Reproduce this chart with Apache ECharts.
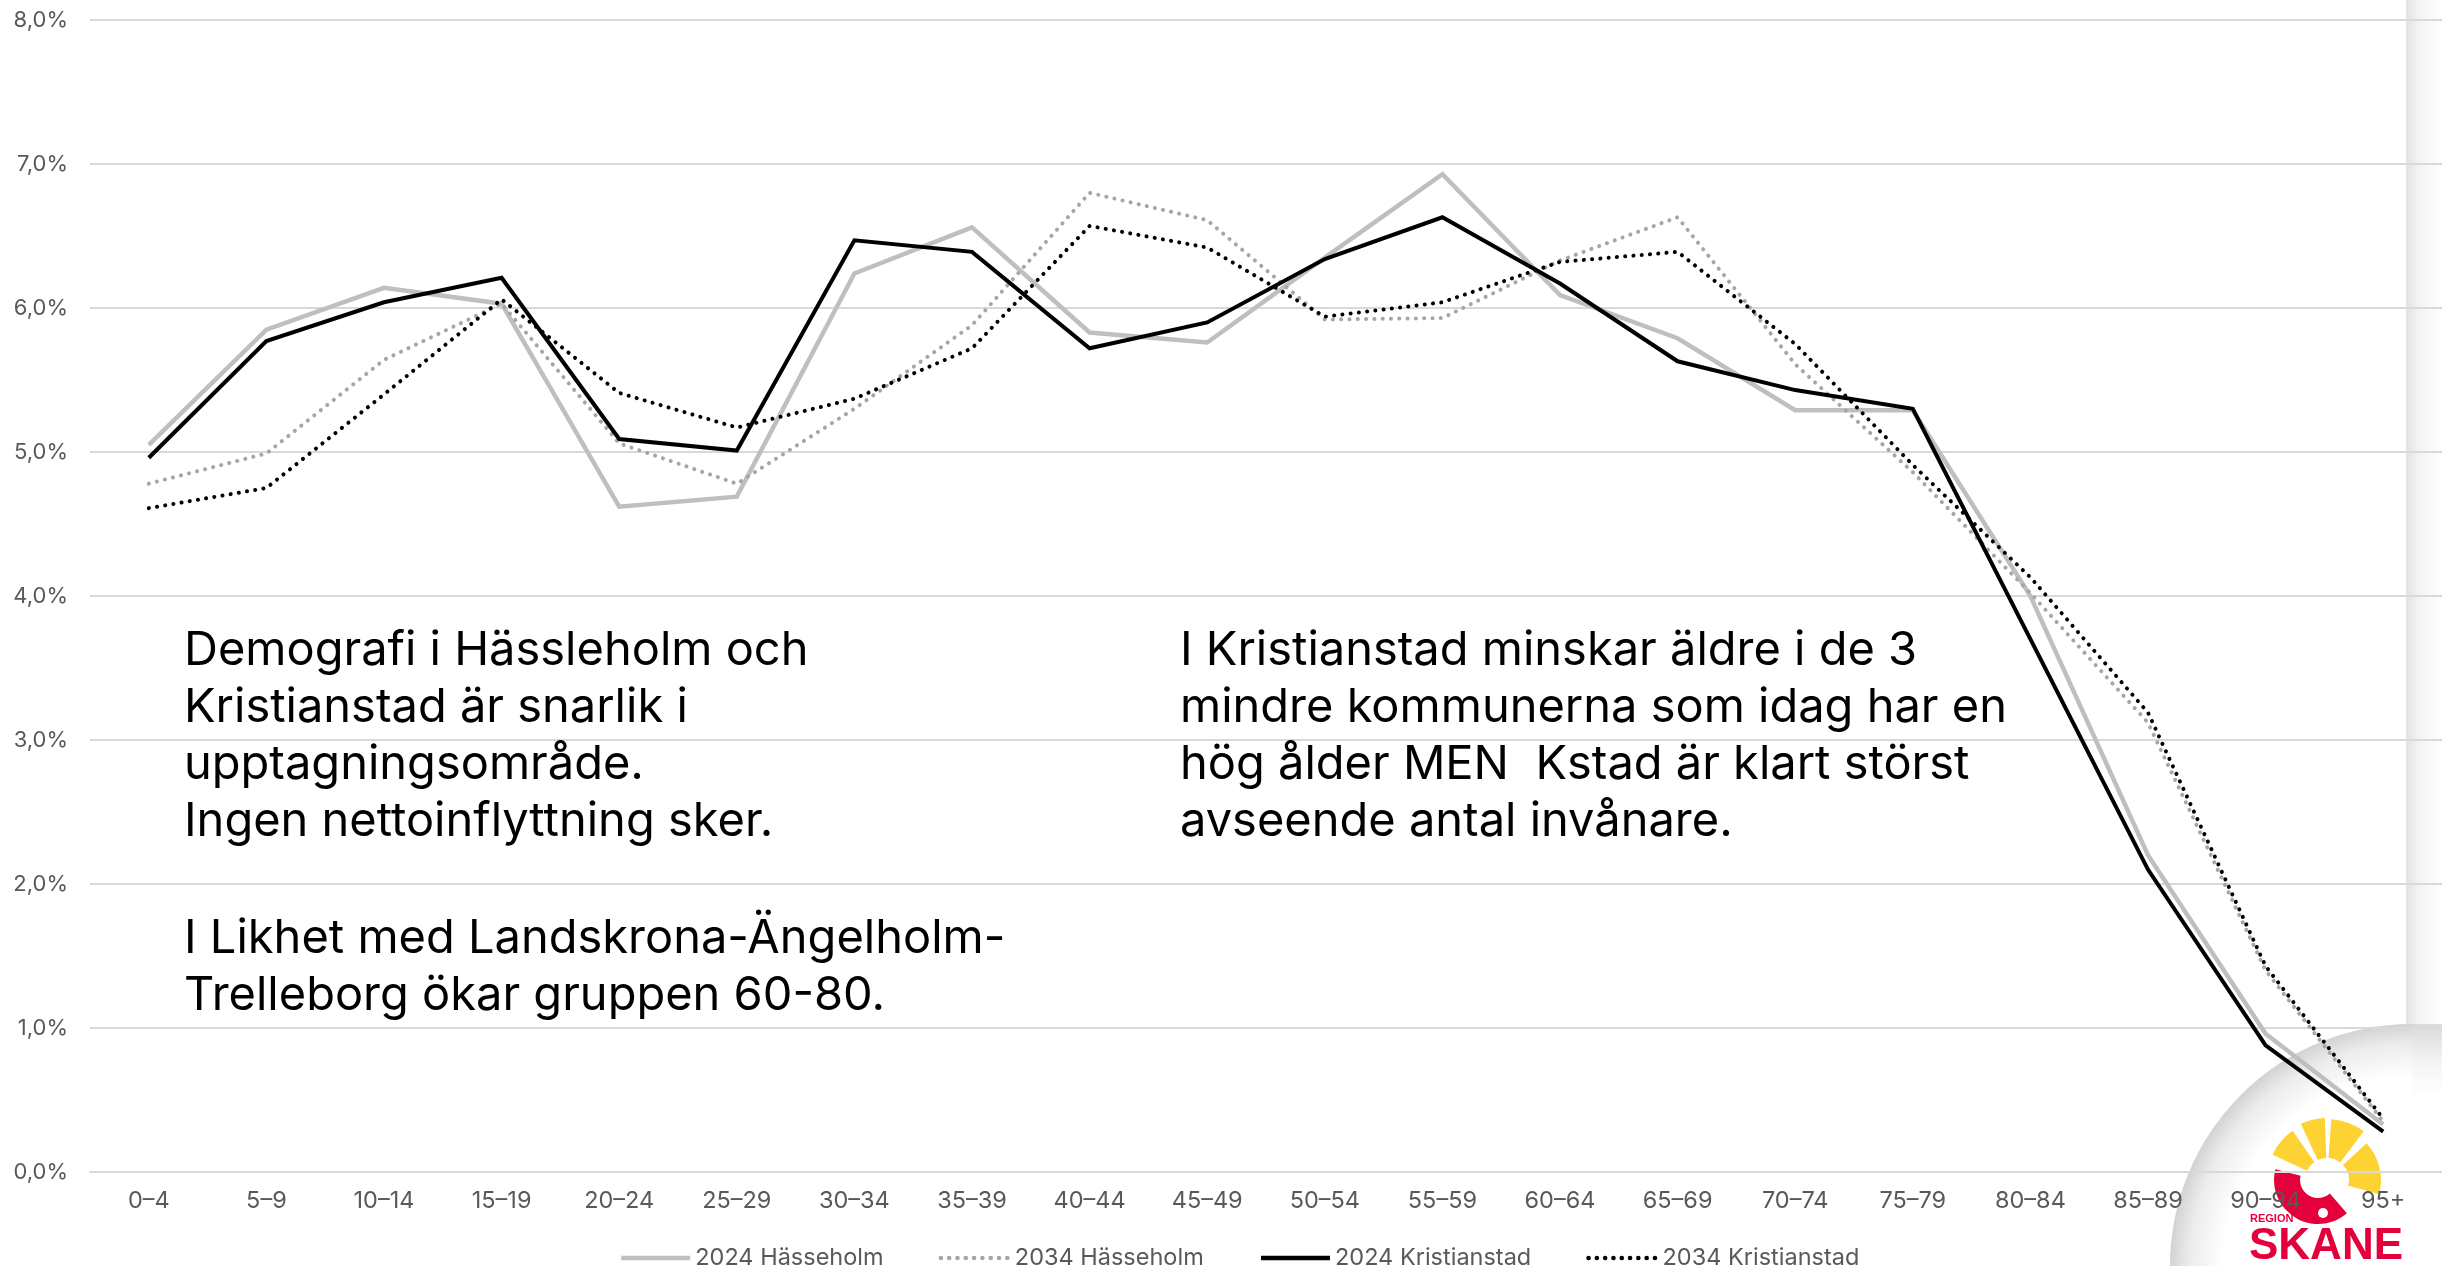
<!DOCTYPE html>
<html>
<head>
<meta charset="utf-8">
<script src="https://cdn.jsdelivr.net/npm/echarts@6/dist/echarts.min.js"></script>
<style>
html,body{margin:0;padding:0;background:#fff;}
#c{width:2442px;height:1268px;}
</style>
</head>
<body>
<div id="c"></div>
<script>
// ---- data ----
const categories = ['0–4','5–9','10–14','15–19','20–24','25–29','30–34','35–39','40–44','45–49','50–54','55–59','60–64','65–69','70–74','75–79','80–84','85–89','90–94','95+'];
const hass2024  = [5.05, 5.85, 6.14, 6.03, 4.62, 4.69, 6.24, 6.56, 5.83, 5.76, 6.35, 6.93, 6.09, 5.79, 5.29, 5.29, 4.00, 2.20, 0.96, 0.33];
const hass2034  = [4.78, 4.99, 5.64, 6.03, 5.06, 4.78, 5.30, 5.88, 6.80, 6.61, 5.92, 5.93, 6.33, 6.63, 5.61, 4.86, 4.02, 3.12, 1.40, 0.35];
const krist2024 = [4.96, 5.77, 6.04, 6.21, 5.09, 5.01, 6.47, 6.39, 5.72, 5.90, 6.34, 6.63, 6.17, 5.63, 5.43, 5.30, 3.70, 2.10, 0.88, 0.28];
const krist2034 = [4.61, 4.75, 5.40, 6.06, 5.41, 5.17, 5.37, 5.72, 6.57, 6.42, 5.94, 6.04, 6.32, 6.39, 5.75, 4.91, 4.13, 3.19, 1.43, 0.37];
const seriesNames = ['2024 Hässeholm','2034 Hässeholm','2024 Kristianstad','2034 Kristianstad'];
const yMin = 0, yMax = 8, yStep = 1;

const textLeftA = 'Demografi i Hässleholm och\nKristianstad är snarlik i\nupptagningsområde.\nIngen nettoinflyttning sker.';
const textLeftB = 'I Likhet med Landskrona-Ängelholm-\nTrelleborg ökar gruppen 60-80.';
const textRight = 'I Kristianstad minskar äldre i de 3\nmindre kommunerna som idag har en\nhög ålder MEN  Kstad är klart störst\navseende antal invånare.';

const LABEL_FONT = 'Inter';
const TEXT_FONT = 'Inter';
const RED = '#e4003a', YEL = '#fdd333';
const deg = Math.PI / 180;

const chart = echarts.init(document.getElementById('c'), null, {renderer:'canvas'});

const dot = [0.1, 8.2];
function mk(name, data, color, width, dotted) {
  return {
    name, type:'line', data, symbol:'none', smooth:false,
    lineStyle:{color, width, type: dotted ? dot : 'solid', cap: dotted ? 'round' : 'butt', join:'miter'},
    itemStyle:{color},
    emphasis:{disabled:true}
  };
}

const yellowSeg = (a0, a1, r) => ({
  type:'sector', z:-5, silent:true,
  shape:{cx:2327, cy:1180, r0:22, r:r, startAngle:a0*deg, endAngle:a1*deg, clockwise:true},
  style:{fill:YEL}
});

chart.setOption({
  animation:false,
  backgroundColor:'#ffffff',
  grid:{left:90, right:-4, top:20, bottom:96, containLabel:false},
  xAxis:{
    type:'category', data:categories, boundaryGap:true,
    axisLine:{show:true, lineStyle:{color:'#d9d9d9', width:2}},
    axisTick:{show:false},
    axisLabel:{color:'#595959', fontSize:23.5, fontFamily:LABEL_FONT, margin:17, interval:0}
  },
  yAxis:{
    type:'value', min:yMin, max:yMax, interval:yStep,
    axisLine:{show:false}, axisTick:{show:false},
    splitLine:{lineStyle:{color:'#d9d9d9', width:2}},
    axisLabel:{color:'#595959', fontSize:22, fontFamily:LABEL_FONT, margin:22,
      formatter: v => v.toFixed(1).replace('.', ',') + '%'}
  },
  legend:{
    data:seriesNames, left:614, top:1241, itemWidth:69, itemHeight:14, itemGap:55,
    itemStyle:{opacity:0},
    lineStyle:{width:4.5},
    textStyle:{color:'#595959', fontSize:23.5, fontFamily:LABEL_FONT},
    selectedMode:false
  },
  series:[
    mk(seriesNames[0], hass2024, '#bfbfbf', 4.5, false),
    mk(seriesNames[1], hass2034, '#a6a6a6', 4, true),
    mk(seriesNames[2], krist2024, '#000000', 4, false),
    mk(seriesNames[3], krist2034, '#000000', 4, true)
  ],
  graphic:[
    // shadow panel
    {type:'rect', z:-10, silent:true, shape:{x:2406, y:0, width:36, height:1026},
      style:{fill:{type:'linear', x:0, y:0, x2:1, y2:0, colorStops:[
        {offset:0, color:'#e2e2e2'},{offset:0.35, color:'#f3f3f3'},{offset:1, color:'#ffffff'}]}}},
    {type:'rect', z:-10, silent:true, shape:{x:2412, y:1024, width:30, height:244},
      style:{fill:{type:'linear', x:0, y:0, x2:0, y2:1, colorStops:[
        {offset:0, color:'#d9d9d9'},{offset:0.15, color:'#f4f4f4'},{offset:0.3, color:'#ffffff'},{offset:1, color:'#ffffff'}]}}},
    {type:'sector', z:-10, silent:true,
      shape:{cx:2412, cy:1266, r0:0, r:242, startAngle:Math.PI, endAngle:1.5*Math.PI, clockwise:true},
      style:{fill:{type:'radial', x:2412, y:1266, r:242, global:true, colorStops:[
        {offset:0, color:'#ffffff'},{offset:0.78, color:'#ffffff'},{offset:0.92, color:'#ececec'},{offset:1, color:'#d2d2d2'}]}}},
    // logo
    yellowSeg(-155, -125, 60),
    yellowSeg(-115, -92, 62),
    yellowSeg(-86, -53, 61),
    yellowSeg(-43, 15, 54),
    {type:'sector', z:-5, silent:true,
      shape:{cx:2318, cy:1180, r0:18, r:44, startAngle:49*deg, endAngle:194*deg, clockwise:true},
      style:{fill:RED}},
    {type:'circle', z:-4, silent:true, shape:{cx:2323, cy:1213, r:5}, style:{fill:'#ffffff'}},
    {type:'text', z:-4, silent:true, x:2250, y:1219,
      style:{text:'REGION', fill:RED, font:'bold 11px "Liberation Sans"', verticalAlign:'middle'}},
    {type:'text', z:-4, silent:true, x:2249, y:1247,
      style:{text:'SKANE', fill:RED, font:'bold 44px "Liberation Sans"', verticalAlign:'middle'}},
    // annotation texts
    {type:'text', z:20, silent:true, x:184, y:623,
      style:{text:textLeftA, fill:'#000', font:'47px ' + TEXT_FONT, lineHeight:56.7, verticalAlign:'top'}},
    {type:'text', z:20, silent:true, x:184, y:911,
      style:{text:textLeftB, fill:'#000', font:'47px ' + TEXT_FONT, lineHeight:56.7, verticalAlign:'top'}},
    {type:'text', z:20, silent:true, x:1180, y:623,
      style:{text:textRight, fill:'#000', font:'47px ' + TEXT_FONT, lineHeight:56.7, verticalAlign:'top'}}
  ]
});
</script>
</body>
</html>
